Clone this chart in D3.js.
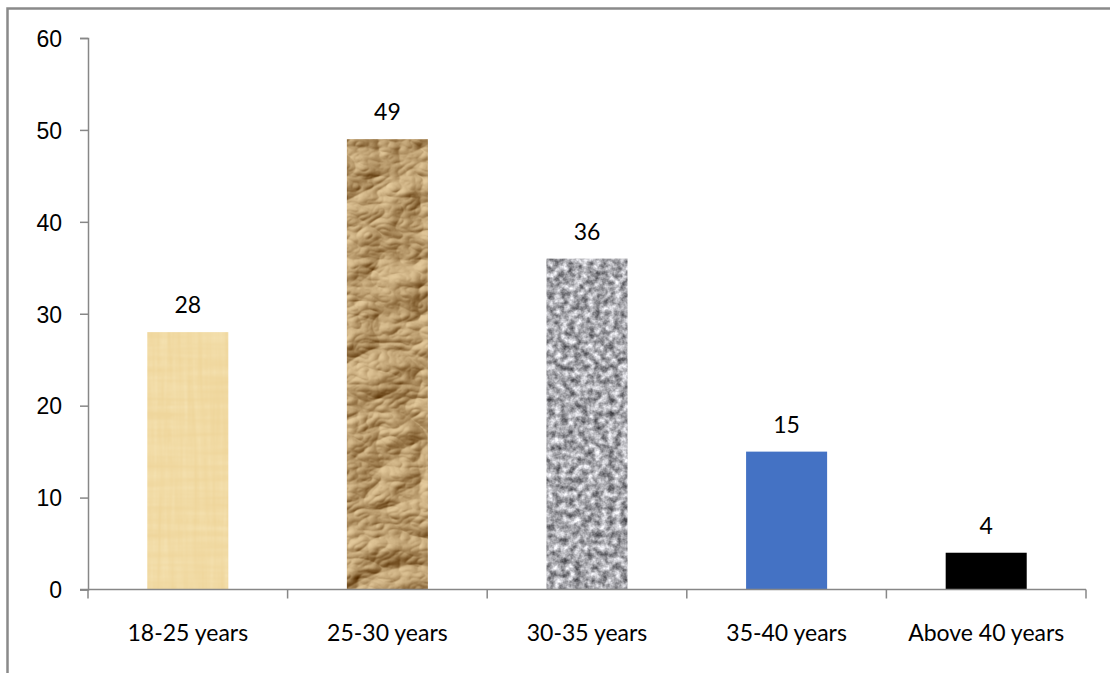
<!DOCTYPE html>
<html>
<head>
<meta charset="utf-8">
<script src="https://cdn.jsdelivr.net/npm/d3@7"></script>
<style>
  body { margin: 0; background: #fff; }
  svg { display: block; font-family: Lato, "Noto Sans", sans-serif; }
</style>
</head>
<body>
<svg width="1110" height="673"></svg>
<script>
// chart data
const categories = ["18-25 years", "25-30 years", "30-35 years", "35-40 years", "Above 40 years"];
const values = [28, 49, 36, 15, 4];
const yTicks = [0, 10, 20, 30, 40, 50, 60];

// fill per bar (textures are svg filters defined below)
const barFills = ["papyrus", "crumpled", "granite", "#4472C4", "#000000"];

const svg = d3.select("svg");
const margin = {top: 38, right: 24, bottom: 83.5, left: 88};
const width = 1110 - margin.left - margin.right,
      height = 673 - margin.top - margin.bottom;

// outer frame (only left and top edges show in the picture)
svg.append("rect")
    .attr("x", 7.5).attr("y", 8.5)
    .attr("width", 1120).attr("height", 700)
    .attr("fill", "none")
    .attr("stroke", "#8a8a8a")
    .attr("stroke-width", 2.5);

const defs = svg.append("defs");
const newFilter = id => defs.append("filter").attr("id", id)
    .attr("x", 0).attr("y", 0).attr("width", 1).attr("height", 1)
    .attr("color-interpolation-filters", "sRGB");

// papyrus: light tan with faint fibres
let f = newFilter("papyrus");
f.append("feFlood").attr("flood-color", "#efd69c").attr("result", "base");
f.append("feTurbulence").attr("type", "fractalNoise")
    .attr("baseFrequency", "0.2 0.012").attr("numOctaves", 2).attr("seed", 3).attr("result", "n1");
f.append("feTurbulence").attr("type", "fractalNoise")
    .attr("baseFrequency", "0.01 0.15").attr("numOctaves", 2).attr("seed", 8).attr("result", "n2");
f.append("feBlend").attr("in", "n1").attr("in2", "n2").attr("mode", "multiply").attr("result", "n");
f.append("feColorMatrix").attr("in", "n").attr("type", "matrix")
    .attr("values", "0 0 0 0 0.98  0 0 0 0 0.93  0 0 0 0 0.78  0.9 0 0 0 -0.2").attr("result", "streak");
f.append("feComposite").attr("in", "streak").attr("in2", "base").attr("operator", "over").attr("result", "tex");
f.append("feComposite").attr("in", "tex").attr("in2", "SourceGraphic").attr("operator", "in");

// crumpled brown paper: lit turbulence mapped onto tan tones
f = newFilter("crumpled");
f.append("feTurbulence").attr("type", "turbulence")
    .attr("baseFrequency", "0.012 0.018").attr("numOctaves", 4).attr("seed", 11).attr("result", "noise");
f.append("feDiffuseLighting").attr("in", "noise").attr("surfaceScale", 7)
    .attr("lighting-color", "#ffffff").attr("result", "lit")
  .append("feDistantLight").attr("azimuth", 225).attr("elevation", 45);
f.append("feGaussianBlur").attr("in", "lit").attr("stdDeviation", 0.5).attr("result", "soft");
f.append("feColorMatrix").attr("in", "soft").attr("type", "matrix")
    .attr("values", "0.62 0 0 0 0.29  0.68 0 0 0 0.13  0.68 0 0 0 -0.05  0 0 0 0 1").attr("result", "tex");
f.append("feComposite").attr("in", "tex").attr("in2", "SourceGraphic").attr("operator", "in");

// granite: grey speckle
f = newFilter("granite");
f.append("feTurbulence").attr("type", "fractalNoise")
    .attr("baseFrequency", 0.15).attr("numOctaves", 3).attr("seed", 5).attr("result", "noise");
f.append("feColorMatrix").attr("in", "noise").attr("type", "matrix")
    .attr("values", "1.05 0 0 0 0.13  1.05 0 0 0 0.13  1.05 0 0 0 0.15  0 0 0 0 1").attr("result", "tex");
f.append("feComposite").attr("in", "tex").attr("in2", "SourceGraphic").attr("operator", "in");

const g = svg.append("g").attr("transform", `translate(${margin.left},${margin.top})`);

const xScale = d3.scaleBand()
    .domain(categories)
    .range([0, width])
    .paddingInner(0.594)
    .paddingOuter(0.297);

const yScale = d3.scaleLinear()
    .domain([0, 60])
    .range([height, 0]);

const axisColor = "#878787";

// y axis
const yAxis = g.append("g")
    .call(d3.axisLeft(yScale).tickValues(yTicks).tickSize(8).tickPadding(18));
yAxis.select(".domain").attr("stroke", axisColor).attr("stroke-width", 1.5);
yAxis.selectAll(".tick line").attr("stroke", axisColor).attr("stroke-width", 1.5);
yAxis.selectAll(".tick text")
    .attr("fill", "#000").style("font-size", "23px").attr("dy", "0.36em");

// bars
g.selectAll(".bar")
    .data(values)
    .enter()
    .append("rect")
    .attr("class", "bar")
    .attr("x", (d, i) => xScale(categories[i]))
    .attr("y", d => yScale(d))
    .attr("width", xScale.bandwidth())
    .attr("height", d => height - yScale(d))
    .attr("fill", (d, i) => barFills[i].startsWith("#") ? barFills[i] : "#000")
    .attr("filter", (d, i) => barFills[i].startsWith("#") ? null : `url(#${barFills[i]})`);

// x axis, ticks sit on the category boundaries
const xAxis = g.append("g").attr("transform", `translate(0,${height})`);
const step = xScale.step();
xAxis.append("line")
    .attr("x1", -8).attr("x2", width)
    .attr("stroke", axisColor).attr("stroke-width", 1.5);
xAxis.selectAll(".xtick")
    .data(d3.range(categories.length + 1))
    .enter()
    .append("line")
    .attr("x1", i => i * step).attr("x2", i => i * step)
    .attr("y1", 0).attr("y2", 9)
    .attr("stroke", axisColor).attr("stroke-width", 1.5);
xAxis.selectAll(".xlabel")
    .data(categories)
    .enter()
    .append("text")
    .attr("x", d => xScale(d) + xScale.bandwidth() / 2)
    .attr("y", 51)
    .attr("text-anchor", "middle")
    .style("font-size", "23px")
    .text(d => d);

// value labels
g.selectAll(".val")
    .data(values)
    .enter()
    .append("text")
    .attr("x", (d, i) => xScale(categories[i]) + xScale.bandwidth() / 2)
    .attr("y", d => yScale(d) - 19)
    .attr("text-anchor", "middle")
    .style("font-size", "23px")
    .text(d => d);
</script>
</body>
</html>
